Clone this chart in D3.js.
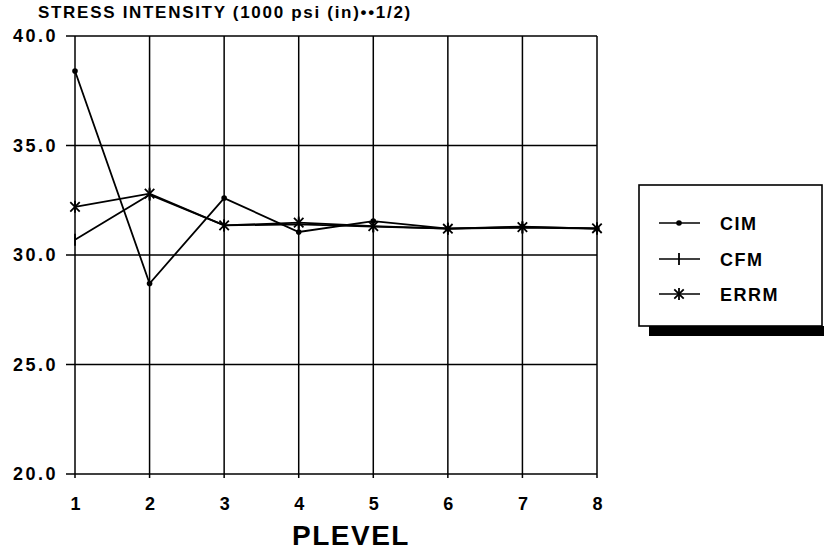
<!DOCTYPE html>
<html lang="en">
    <head>
        <meta charset="UTF-8">
        <title>Stress intensity vs PLEVEL</title>
        <script type="text/javascript" src="https://d3js.org/d3.v7.min.js"></script>
        <style>
         body { margin: 0; background: #fff; font-family: "Liberation Sans", Arial, sans-serif; }
         svg { display: block; }
        </style>
    </head>

    <body>
      <div id="svgcontainer"></div>
        <script>
            // data
            const plevels = [1, 2, 3, 4, 5, 6, 7, 8];
            const cim  = [38.4, 28.7, 32.6, 31.05, 31.55, 31.2, 31.3, 31.2];
            const cfm  = [30.7, 32.75, 31.35, 31.4, 31.3, 31.2, 31.25, 31.2];
            const errm = [32.2, 32.8, 31.35, 31.48, 31.32, 31.2, 31.27, 31.22];
            const yTicks = [20, 25, 30, 35, 40];
            const seriesNames = ["CIM", "CFM", "ERRM"];

            const width = 824, height = 550;
            const svg = d3.select("#svgcontainer")
                .append("svg")
                .attr("width", width)
                .attr("height", height);

            const x = d3.scaleLinear().domain([1, 8]).range([75, 597]);
            const y = d3.scaleLinear().domain([20, 40]).range([474, 36]);

            // grid
            svg.append("g")
                .selectAll("line.h")
                .data(yTicks)
                .enter().append("line")
                .attr("x1", x(1) - 9)
                .attr("x2", x(8))
                .attr("y1", d => y(d))
                .attr("y2", d => y(d))
                .attr("stroke", "#000")
                .attr("stroke-width", 1.5);

            svg.append("g")
                .selectAll("line.v")
                .data(plevels)
                .enter().append("line")
                .attr("x1", d => x(d))
                .attr("x2", d => x(d))
                .attr("y1", y(40))
                .attr("y2", y(20) + 4)
                .attr("stroke", "#000")
                .attr("stroke-width", 1.5);

            // axes (labels only)
            const yAxis = svg.append("g")
                .attr("transform", `translate(${x(1) - 17},0)`)
                .call(d3.axisLeft(y).tickValues(yTicks).tickFormat(d3.format(".1f")).tickSize(0).tickPadding(0));
            yAxis.select(".domain").remove();
            yAxis.selectAll("text")
                .attr("font-family", "Liberation Sans, Arial, sans-serif")
                .attr("font-weight", "bold")
                .attr("font-size", 18)
                .attr("letter-spacing", 2.5)
                .attr("fill", "#000");

            const xAxis = svg.append("g")
                .attr("transform", `translate(0,${y(20) + 23})`)
                .call(d3.axisBottom(x).tickValues(plevels).tickFormat(d3.format("d")).tickSize(0).tickPadding(0));
            xAxis.select(".domain").remove();
            xAxis.selectAll("text")
                .attr("font-family", "Liberation Sans, Arial, sans-serif")
                .attr("font-weight", "bold")
                .attr("font-size", 18)
                .attr("fill", "#000");

            svg.append("text")
                .attr("x", (x(1) + x(8)) / 2 + 15)
                .attr("y", 545)
                .attr("text-anchor", "middle")
                .attr("font-weight", "bold")
                .attr("font-size", 28)
                .attr("letter-spacing", 1.5)
                .text("PLEVEL");

            svg.append("text")
                .attr("x", 38)
                .attr("y", 18)
                .attr("font-weight", "bold")
                .attr("font-size", 17)
                .attr("letter-spacing", 1.7)
                .text("STRESS INTENSITY (1000 psi (in)\u2022\u20221/2)");

            // markers
            const star = d3.symbol().type(d3.symbolTimes).size(60);
            function drawMarker(g, kind, cx, cy) {
                if (kind === "CIM") {
                    g.append("circle").attr("cx", cx).attr("cy", cy).attr("r", 2.8).attr("fill", "#000");
                } else if (kind === "CFM") {
                    g.append("line").attr("x1", cx).attr("x2", cx).attr("y1", cy - 6).attr("y2", cy + 6)
                        .attr("stroke", "#000").attr("stroke-width", 1.8);
                } else {
                    g.append("path").attr("d", star).attr("transform", `translate(${cx},${cy})`)
                        .attr("stroke", "#000").attr("stroke-width", 1.8).attr("fill", "none");
                    g.append("line").attr("x1", cx).attr("x2", cx).attr("y1", cy - 6).attr("y2", cy + 6)
                        .attr("stroke", "#000").attr("stroke-width", 1.8);
                }
            }

            const line = d3.line()
                .x((d, i) => x(plevels[i]))
                .y(d => y(d));

            const allSeries = [cim, cfm, errm];
            allSeries.forEach((vals, k) => {
                const g = svg.append("g");
                g.append("path")
                    .attr("d", line(vals))
                    .attr("fill", "none")
                    .attr("stroke", "#000")
                    .attr("stroke-width", 1.8);
                vals.forEach((v, i) => drawMarker(g, seriesNames[k], x(plevels[i]), y(v)));
            });

            // legend
            const lg = svg.append("g");
            lg.append("rect").attr("x", 649).attr("y", 326).attr("width", 175).attr("height", 10).attr("fill", "#000");
            lg.append("rect").attr("x", 639).attr("y", 185).attr("width", 183).attr("height", 141)
                .attr("fill", "#fff").attr("stroke", "#000").attr("stroke-width", 1.6);
            const rowY = [223, 259, 294];
            seriesNames.forEach((name, i) => {
                lg.append("line").attr("x1", 659).attr("x2", 700).attr("y1", rowY[i]).attr("y2", rowY[i])
                    .attr("stroke", "#000").attr("stroke-width", 1.6);
                drawMarker(lg, name, 679, rowY[i]);
                lg.append("text").attr("x", 720).attr("y", rowY[i] + 7)
                    .attr("font-weight", "bold").attr("font-size", 18)
                    .attr("letter-spacing", 1.5)
                    .text(name);
            });
        </script>
    </body>
</html>
